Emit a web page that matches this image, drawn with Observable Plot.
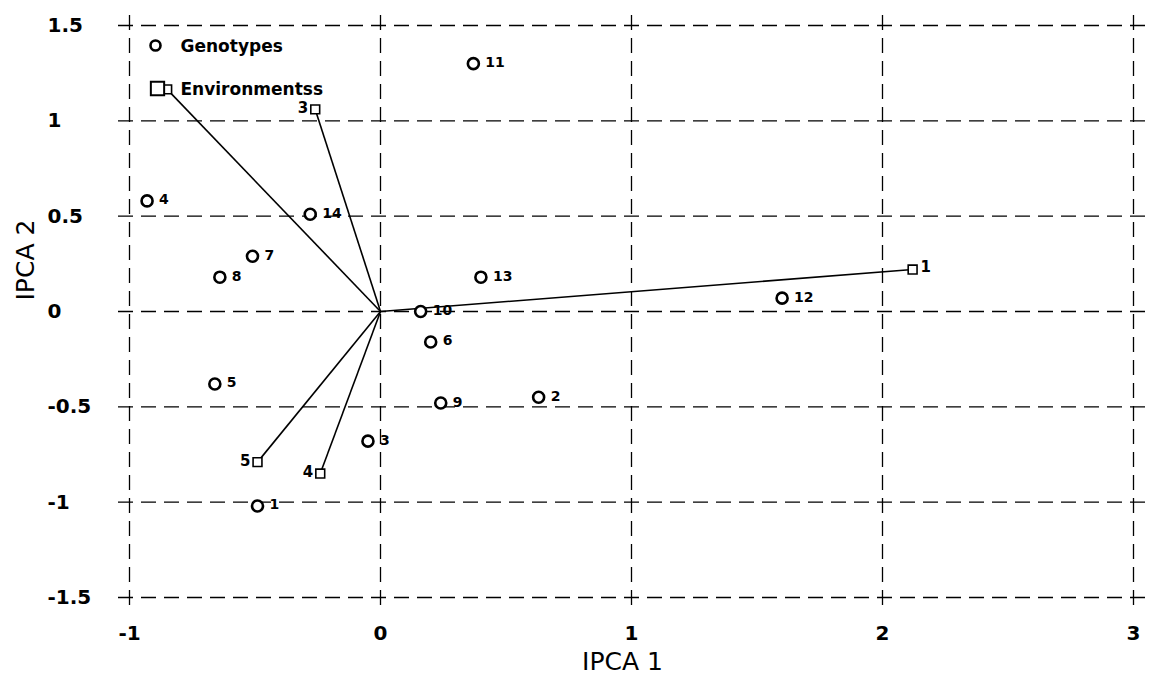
<!DOCTYPE html>
<html>
<head>
<meta charset="utf-8">
<script src="https://cdn.jsdelivr.net/npm/d3@7"></script>
<script src="https://cdn.jsdelivr.net/npm/@observablehq/plot@0.6"></script>
<style>
  html, body { margin: 0; padding: 0; background: #fff; }
  #chart svg { display: block; }
</style>
</head>
<body>
<div id="chart"></div>
<script>
// Genotypes (circles)
const genoIds = ["1","2","3","4","5","6","7","8","9","10","11","12","13","14"];
const genoX = [-0.49, 0.63, -0.05, -0.93, -0.66, 0.20, -0.51, -0.64, 0.24, 0.16, 0.37, 1.60, 0.40, -0.28];
const genoY = [-1.02, -0.45, -0.68, 0.58, -0.38, -0.16, 0.29, 0.18, -0.48, 0.00, 1.30, 0.07, 0.18, 0.51];

// Environments (squares, vectors from origin)
const envIds = ["1","2","3","4","5"];
const envX = [2.12, -0.85, -0.26, -0.24, -0.49];
const envY = [0.22, 1.165, 1.06, -0.85, -0.79];
const envLabelSide = ["right", "none", "left", "left", "left"];

// Axis ticks
const xTicks = [-1, 0, 1, 2, 3];
const yTicks = [-1.5, -1, -0.5, 0, 0.5, 1, 1.5];

const legendItems = ["Genotypes", "Environmentss"];
const xTitle = "IPCA 1";
const yTitle = "IPCA 2";

const geno = genoIds.map((id, i) => ({id, x: genoX[i], y: genoY[i]}));
const env = envIds.map((id, i) => ({id, x: envX[i], y: envY[i], side: envLabelSide[i]}));

const font = "DejaVu Sans, sans-serif";

const chart = Plot.plot({
  width: 1150,
  height: 678,
  marginLeft: 129,
  marginRight: 17,
  marginTop: 25,
  marginBottom: 81,
  style: {fontFamily: font, background: "#fff", color: "#000", overflow: "visible"},
  x: {domain: [-1, 3]},
  y: {domain: [-1.5, 1.5]},
  marks: [
    // dashed grid
    Plot.ruleY(yTicks, {stroke: "#000", strokeWidth: 1.3, strokeDasharray: "15,8", insetLeft: -11, insetRight: -13}),
    Plot.ruleX(xTicks, {stroke: "#000", strokeWidth: 1.3, strokeDasharray: "15,8", insetTop: -10, insetBottom: -10}),
    // axes
    Plot.axisX({ticks: xTicks, tickSize: 0, tickPadding: 28, tickFormat: d => String(d), fontSize: 20, fontWeight: "bold", label: null}),
    Plot.axisY({ticks: yTicks, tickSize: 0, tickPadding: 82, textAnchor: "start", tickFormat: d => String(d), fontSize: 20, fontWeight: "bold", label: null}),
    // axis titles
    Plot.text([xTitle], {text: d => d, frameAnchor: "bottom", dx: -9, dy: 64, fontSize: 25, lineAnchor: "middle"}),
    Plot.text([yTitle], {text: d => d, frameAnchor: "left", dx: -104, dy: -11, rotate: -90, fontSize: 25, lineAnchor: "middle"}),
    // environment vectors
    Plot.link(env, {x1: () => 0, y1: () => 0, x2: "x", y2: "y", stroke: "#000", strokeWidth: 1.6}),
    Plot.dot(env, {x: "x", y: "y", symbol: "square", r: 5, fill: "#fff", stroke: "#000", strokeWidth: 1.6}),
    Plot.text(env.filter(d => d.side === "right"), {x: "x", y: "y", text: "id", textAnchor: "start", dx: 8, dy: -2, fontSize: 15, fontWeight: "bold"}),
    Plot.text(env.filter(d => d.side === "left"), {x: "x", y: "y", text: "id", textAnchor: "end", dx: -7, dy: -1, fontSize: 15, fontWeight: "bold"}),
    // genotypes
    Plot.dot(geno, {x: "x", y: "y", r: 5.5, fill: "#fff", stroke: "#000", strokeWidth: 2.6}),
    Plot.text(geno, {x: "x", y: "y", text: "id", textAnchor: "start", dx: 12, dy: -1, fontSize: 14, fontWeight: "bold"}),
    // legend
    Plot.dot([legendItems[0]], {frameAnchor: "top-left", dx: 26, dy: 20, r: 5, fill: "#fff", stroke: "#000", strokeWidth: 2.6}),
    Plot.text([legendItems[0]], {text: d => d, frameAnchor: "top-left", dx: 51, dy: 21, textAnchor: "start", lineAnchor: "middle", fontSize: 17, fontWeight: "bold"}),
    Plot.dot([legendItems[1]], {frameAnchor: "top-left", dx: 28, dy: 63, symbol: "square", r: 7.5, fill: "#fff", stroke: "#000", strokeWidth: 2}),
    Plot.text([legendItems[1]], {text: d => d, frameAnchor: "top-left", dx: 51, dy: 64, textAnchor: "start", lineAnchor: "middle", fontSize: 17, fontWeight: "bold"})
  ]
});

document.getElementById("chart").appendChild(chart);
</script>
</body>
</html>
